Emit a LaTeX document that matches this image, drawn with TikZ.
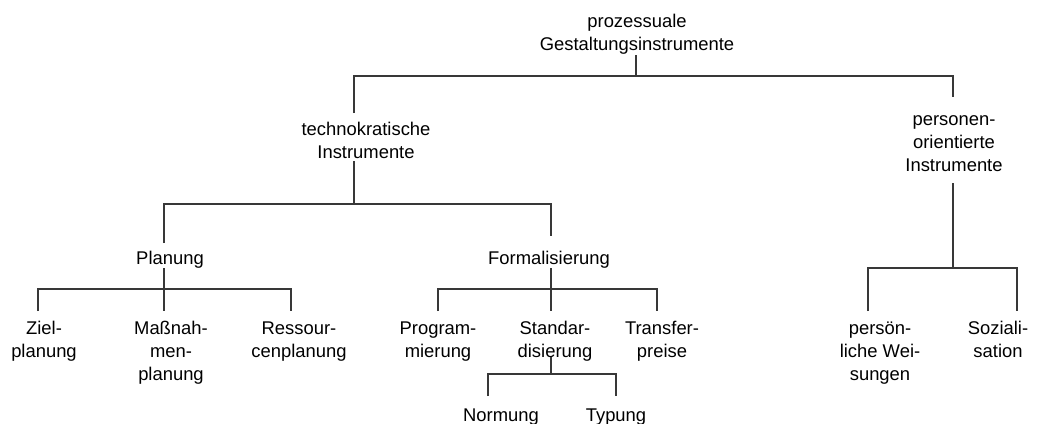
\documentclass[tikz,border=0pt]{standalone}
\usepackage{fontspec}
\setmainfont{Liberation Sans}
\begin{document}
\begin{tikzpicture}[x=1pt,y=-1pt,
  lbl/.style={anchor=base,inner sep=0pt,align=center,
    font=\fontsize{18.4}{23}\selectfont},
  conn/.style={draw=black!78,line width=1.1pt}]
\useasboundingbox (0,0) rectangle (1059,423);

% labels (anchored at the baseline of their last line)
\node[lbl] (root)  at (637,50.5) {prozessuale\\Gestaltungsinstrumente};
\node[lbl] (tech)  at (366,158)  {technokratische\\Instrumente};
\node[lbl] (pers)  at (954,171)  {personen-\\orientierte\\Instrumente};
\node[lbl] (plan)  at (170,264)  {Planung};
\node[lbl] (form)  at (549,264)  {Formalisierung};
\node[lbl] (ziel)  at (44,357)   {Ziel-\\planung};
\node[lbl] (mass)  at (171,380)  {Maßnah-\\men-\\planung};
\node[lbl] (ress)  at (299,357)  {Ressour-\\cenplanung};
\node[lbl] (prog)  at (438,357)  {Program-\\mierung};
\node[lbl] (stan)  at (555,357)  {Standar-\\disierung};
\node[lbl] (tran)  at (662,357)  {Transfer-\\preise};
\node[lbl] (pw)    at (880,380)  {persön-\\liche Wei-\\sungen};
\node[lbl] (soz)   at (998,357)  {Soziali-\\sation};
\node[lbl] (norm)  at (501,421)  {Normung};
\node[lbl] (typ)   at (616,421)  {Typung};

% junction points and line ends
\coordinate (root-s) at (636,55);
\coordinate (j0)     at (636,76);
\coordinate (tech-n) at (354,113);
\coordinate (tech-s) at (354,161);
\coordinate (pers-n) at (953,97);
\coordinate (pers-s) at (953,183);
\coordinate (plan-n) at (164,243);
\coordinate (plan-s) at (164,268);
\coordinate (form-n) at (551,236);
\coordinate (form-s) at (551,268);
\coordinate (ziel-n) at (38,311);
\coordinate (mass-n) at (164,311);
\coordinate (ress-n) at (291,311);
\coordinate (prog-n) at (438,311);
\coordinate (stan-n) at (551,311);
\coordinate (tran-n) at (657,311);
\coordinate (stan-s) at (551,357);
\coordinate (norm-n) at (488,396);
\coordinate (typ-n)  at (616,396);
\coordinate (pw-n)   at (868,311);
\coordinate (soz-n)  at (1017,311);

% root level
\draw[conn] (root-s) -- (j0);
\draw[conn] (tech-n) |- (j0) -| (pers-n);
% technocratic instruments
\draw[conn] (tech-s) -- (tech-s |- 0,204);
\draw[conn] (plan-n) |- (tech-s |- 0,204) -| (form-n);
% planning
\draw[conn] (plan-s) -- (mass-n);
\draw[conn] (ziel-n) |- (ress-n |- 0,289) -- (ress-n);
% formalisation
\draw[conn] (form-s) -- (stan-n);
\draw[conn] (prog-n) |- (tran-n |- 0,289) -- (tran-n);
% standardisation
\draw[conn] (stan-s) -- (stan-s |- 0,374);
\draw[conn] (norm-n) |- (typ-n |- 0,374) -- (typ-n);
% person-oriented instruments
\draw[conn] (pers-s) -- (pers-s |- 0,268);
\draw[conn] (pw-n) |- (soz-n |- 0,268) -- (soz-n);
\end{tikzpicture}
\end{document}
